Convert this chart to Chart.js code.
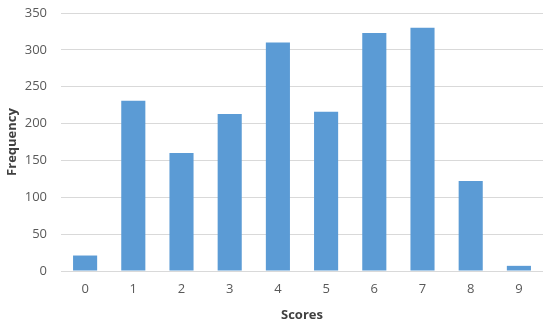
<!DOCTYPE html>
<html>
<head>
<meta charset="utf-8">
<script src="https://cdn.jsdelivr.net/npm/chart.js@4"></script>
<style>
html,body{margin:0;padding:0;background:#fff;}
#wrap{width:550px;height:325px;position:relative;}
</style>
</head>
<body>
<div id="wrap"><canvas id="c" width="550" height="325"></canvas></div>
<script>
const categories = ["0","1","2","3","4","5","6","7","8","9"];
const frequency = [21, 231, 160, 213, 310, 216, 323, 330, 122, 7];
const yTicks = [0, 50, 100, 150, 200, 250, 300, 350];

const font = "'Open Sans', 'Liberation Sans', sans-serif";
new Chart(document.getElementById('c'), {
  type: 'bar',
  data: {
    labels: categories,
    datasets: [{
      data: frequency,
      backgroundColor: '#5B9BD5',
      borderWidth: 0,
      categoryPercentage: 1.0,
      barPercentage: 0.5
    }]
  },
  options: {
    responsive: false,
    animation: false,
    devicePixelRatio: 1,
    layout: { padding: { top: 13, right: 7, bottom: 2, left: 4 } },
    plugins: { legend: { display: false }, tooltip: { enabled: false } },
    scales: {
      x: {
        grid: { display: false, drawTicks: false },
        border: { display: false },
        ticks: { color: '#595959', font: { family: font, size: 13 }, padding: 10 },
        title: { display: true, text: 'Scores', color: '#404040', font: { family: font, size: 13, weight: 'bold' }, padding: { top: 4, bottom: 0 } },
        afterFit: (s) => { s.height = 52; s.paddingLeft = 0; s.paddingRight = 0; }
      },
      y: {
        min: 0, max: 350,
        afterBuildTicks: (s) => { s.ticks = yTicks.map(v => ({ value: v })); },
        grid: { color: '#D9D9D9', lineWidth: 1, drawTicks: false },
        border: { display: false },
        ticks: { color: '#595959', font: { family: font, size: 13 }, padding: 14 },
        title: { display: true, text: 'Frequency', color: '#404040', font: { family: font, size: 13, weight: 'bold' }, padding: { top: 0, bottom: 2 } },
        afterFit: (s) => { s.width = 57; s.paddingTop = 0; s.paddingBottom = 0; }
      }
    }
  }
});
</script>
</body>
</html>
